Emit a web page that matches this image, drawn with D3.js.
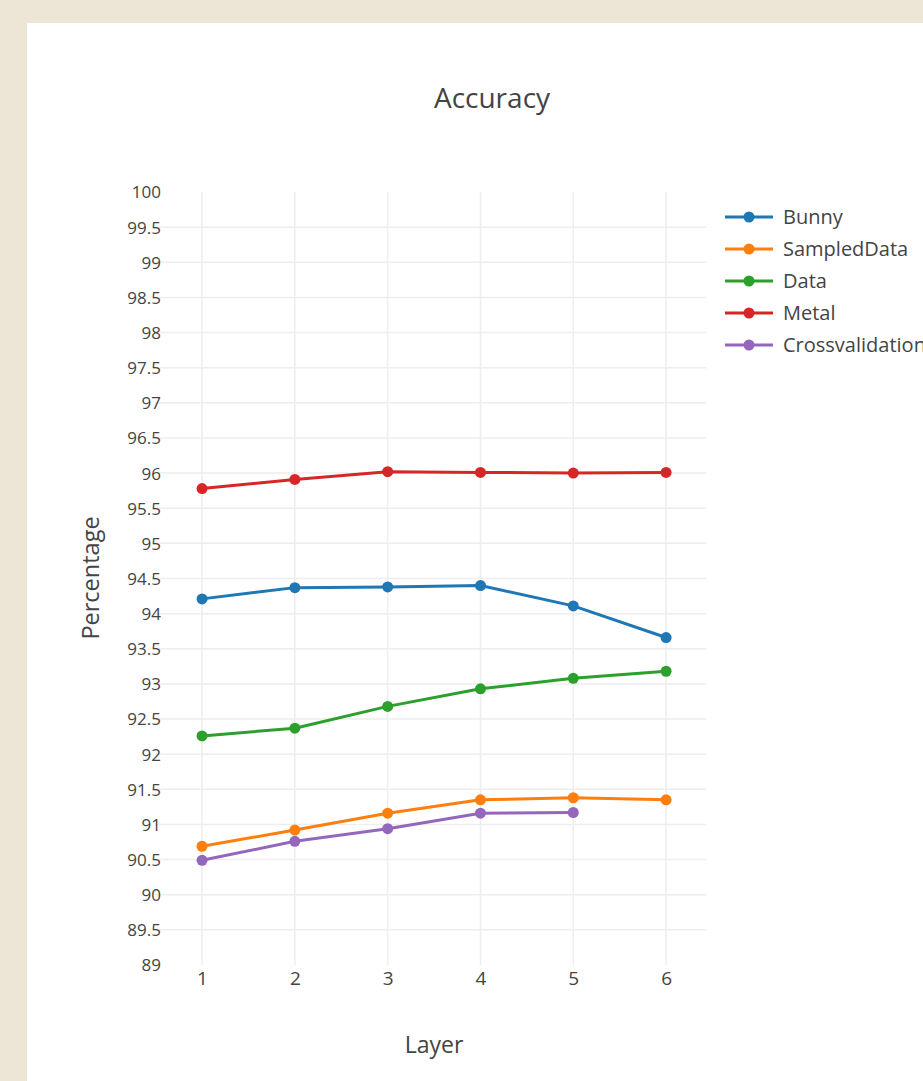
<!DOCTYPE html>
<html><head><meta charset="utf-8">
<script src="https://cdn.jsdelivr.net/npm/d3@7"></script>
<style>
html,body{margin:0;padding:0;background:#ede6d6;}
svg{display:block;}
text{font-family:"Open Sans",sans-serif;fill:#444;}
</style></head><body>
<svg id="c" width="923" height="1081"></svg>
<script>
const layers = [1, 2, 3, 4, 5, 6];
const seriesNames = ["Bunny", "SampledData", "Data", "Metal", "Crossvalidation"];
const seriesColors = ["#1f77b4", "#ff7f0e", "#2ca02c", "#d62728", "#9467bd"];
const bunny = [94.21, 94.37, 94.38, 94.40, 94.11, 93.66];
const sampledData = [90.69, 90.92, 91.16, 91.35, 91.38, 91.35];
const data = [92.26, 92.37, 92.68, 92.93, 93.08, 93.18];
const metal = [95.78, 95.91, 96.02, 96.01, 96.00, 96.01];
const crossvalidation = [90.49, 90.76, 90.94, 91.16, 91.17];
const yTicks = [89, 89.5, 90, 90.5, 91, 91.5, 92, 92.5, 93, 93.5, 94, 94.5, 95, 95.5, 96, 96.5, 97, 97.5, 98, 98.5, 99, 99.5, 100];
const allSeries = [bunny, sampledData, data, metal, crossvalidation];

const svg = d3.select("#c");
svg.append("rect").attr("x", 27).attr("y", 23).attr("width", 923 - 27).attr("height", 1081 - 23).attr("fill", "#fff");

const L = 155, R = 706, T = 192, B = 965;
const x = d3.scaleLinear().domain([0.493, 6.43]).range([L, R]);
const y = d3.scaleLinear().domain([89, 100]).range([B, T]);

// grid
const g = svg.append("g");
g.selectAll("line.h").data(yTicks.filter(t => t !== 89 && t !== 100)).join("line")
  .attr("x1", L).attr("x2", R).attr("y1", d => y(d)).attr("y2", d => y(d))
  .attr("stroke", "#eee").attr("stroke-width", 1.5);
g.selectAll("line.v").data(layers).join("line")
  .attr("x1", d => x(d)).attr("x2", d => x(d)).attr("y1", T).attr("y2", B)
  .attr("stroke", "#eee").attr("stroke-width", 1.5);

// axes
const yAxis = d3.axisLeft(y).tickValues(yTicks).tickSize(0).tickPadding(0).tickFormat(d => d3.format("")(d));
const ya = svg.append("g").attr("transform", `translate(161,0)`).call(yAxis);
ya.select(".domain").remove();
ya.selectAll("text").attr("font-size", 17).attr("fill", "#555").attr("dy", "0.35em").style("font-family", "'Open Sans',sans-serif");

const xAxis = d3.axisBottom(x).tickValues(layers).tickSize(0).tickPadding(6).tickFormat(d3.format("d"));
const xa = svg.append("g").attr("transform", `translate(0,${B})`).call(xAxis);
xa.select(".domain").remove();
xa.selectAll("text").attr("font-size", 19).attr("fill", "#555").style("font-family", "'Open Sans',sans-serif");

// lines
const line = d3.line().x((d, i) => x(layers[i])).y(d => y(d));
allSeries.forEach((s, k) => {
  svg.append("path").datum(s).attr("d", line).attr("fill", "none")
    .attr("stroke", seriesColors[k]).attr("stroke-width", 3).attr("stroke-linejoin", "round");
  svg.selectAll(null).data(s).join("circle")
    .attr("cx", (d, i) => x(layers[i])).attr("cy", d => y(d)).attr("r", 5.5)
    .attr("fill", seriesColors[k]);
});

// title and axis titles
svg.append("text").attr("x", 492).attr("y", 108).attr("text-anchor", "middle").attr("font-size", 28).text("Accuracy");
svg.append("text").attr("x", 434).attr("y", 1053).attr("text-anchor", "middle").attr("font-size", 23).text("Layer");
svg.append("text").attr("transform", "translate(99,578) rotate(-90)").attr("text-anchor", "middle").attr("font-size", 23.5).text("Percentage");

// legend
const lg = svg.append("g");
seriesNames.forEach((n, k) => {
  const yy = 217 + k * 32;
  lg.append("line").attr("x1", 725).attr("x2", 773).attr("y1", yy).attr("y2", yy).attr("stroke", seriesColors[k]).attr("stroke-width", 3);
  lg.append("circle").attr("cx", 749).attr("cy", yy).attr("r", 5.5).attr("fill", seriesColors[k]);
  lg.append("text").attr("x", 783).attr("y", yy).attr("dy", "0.35em").attr("font-size", 20).text(n);
});
</script>
</body></html>
